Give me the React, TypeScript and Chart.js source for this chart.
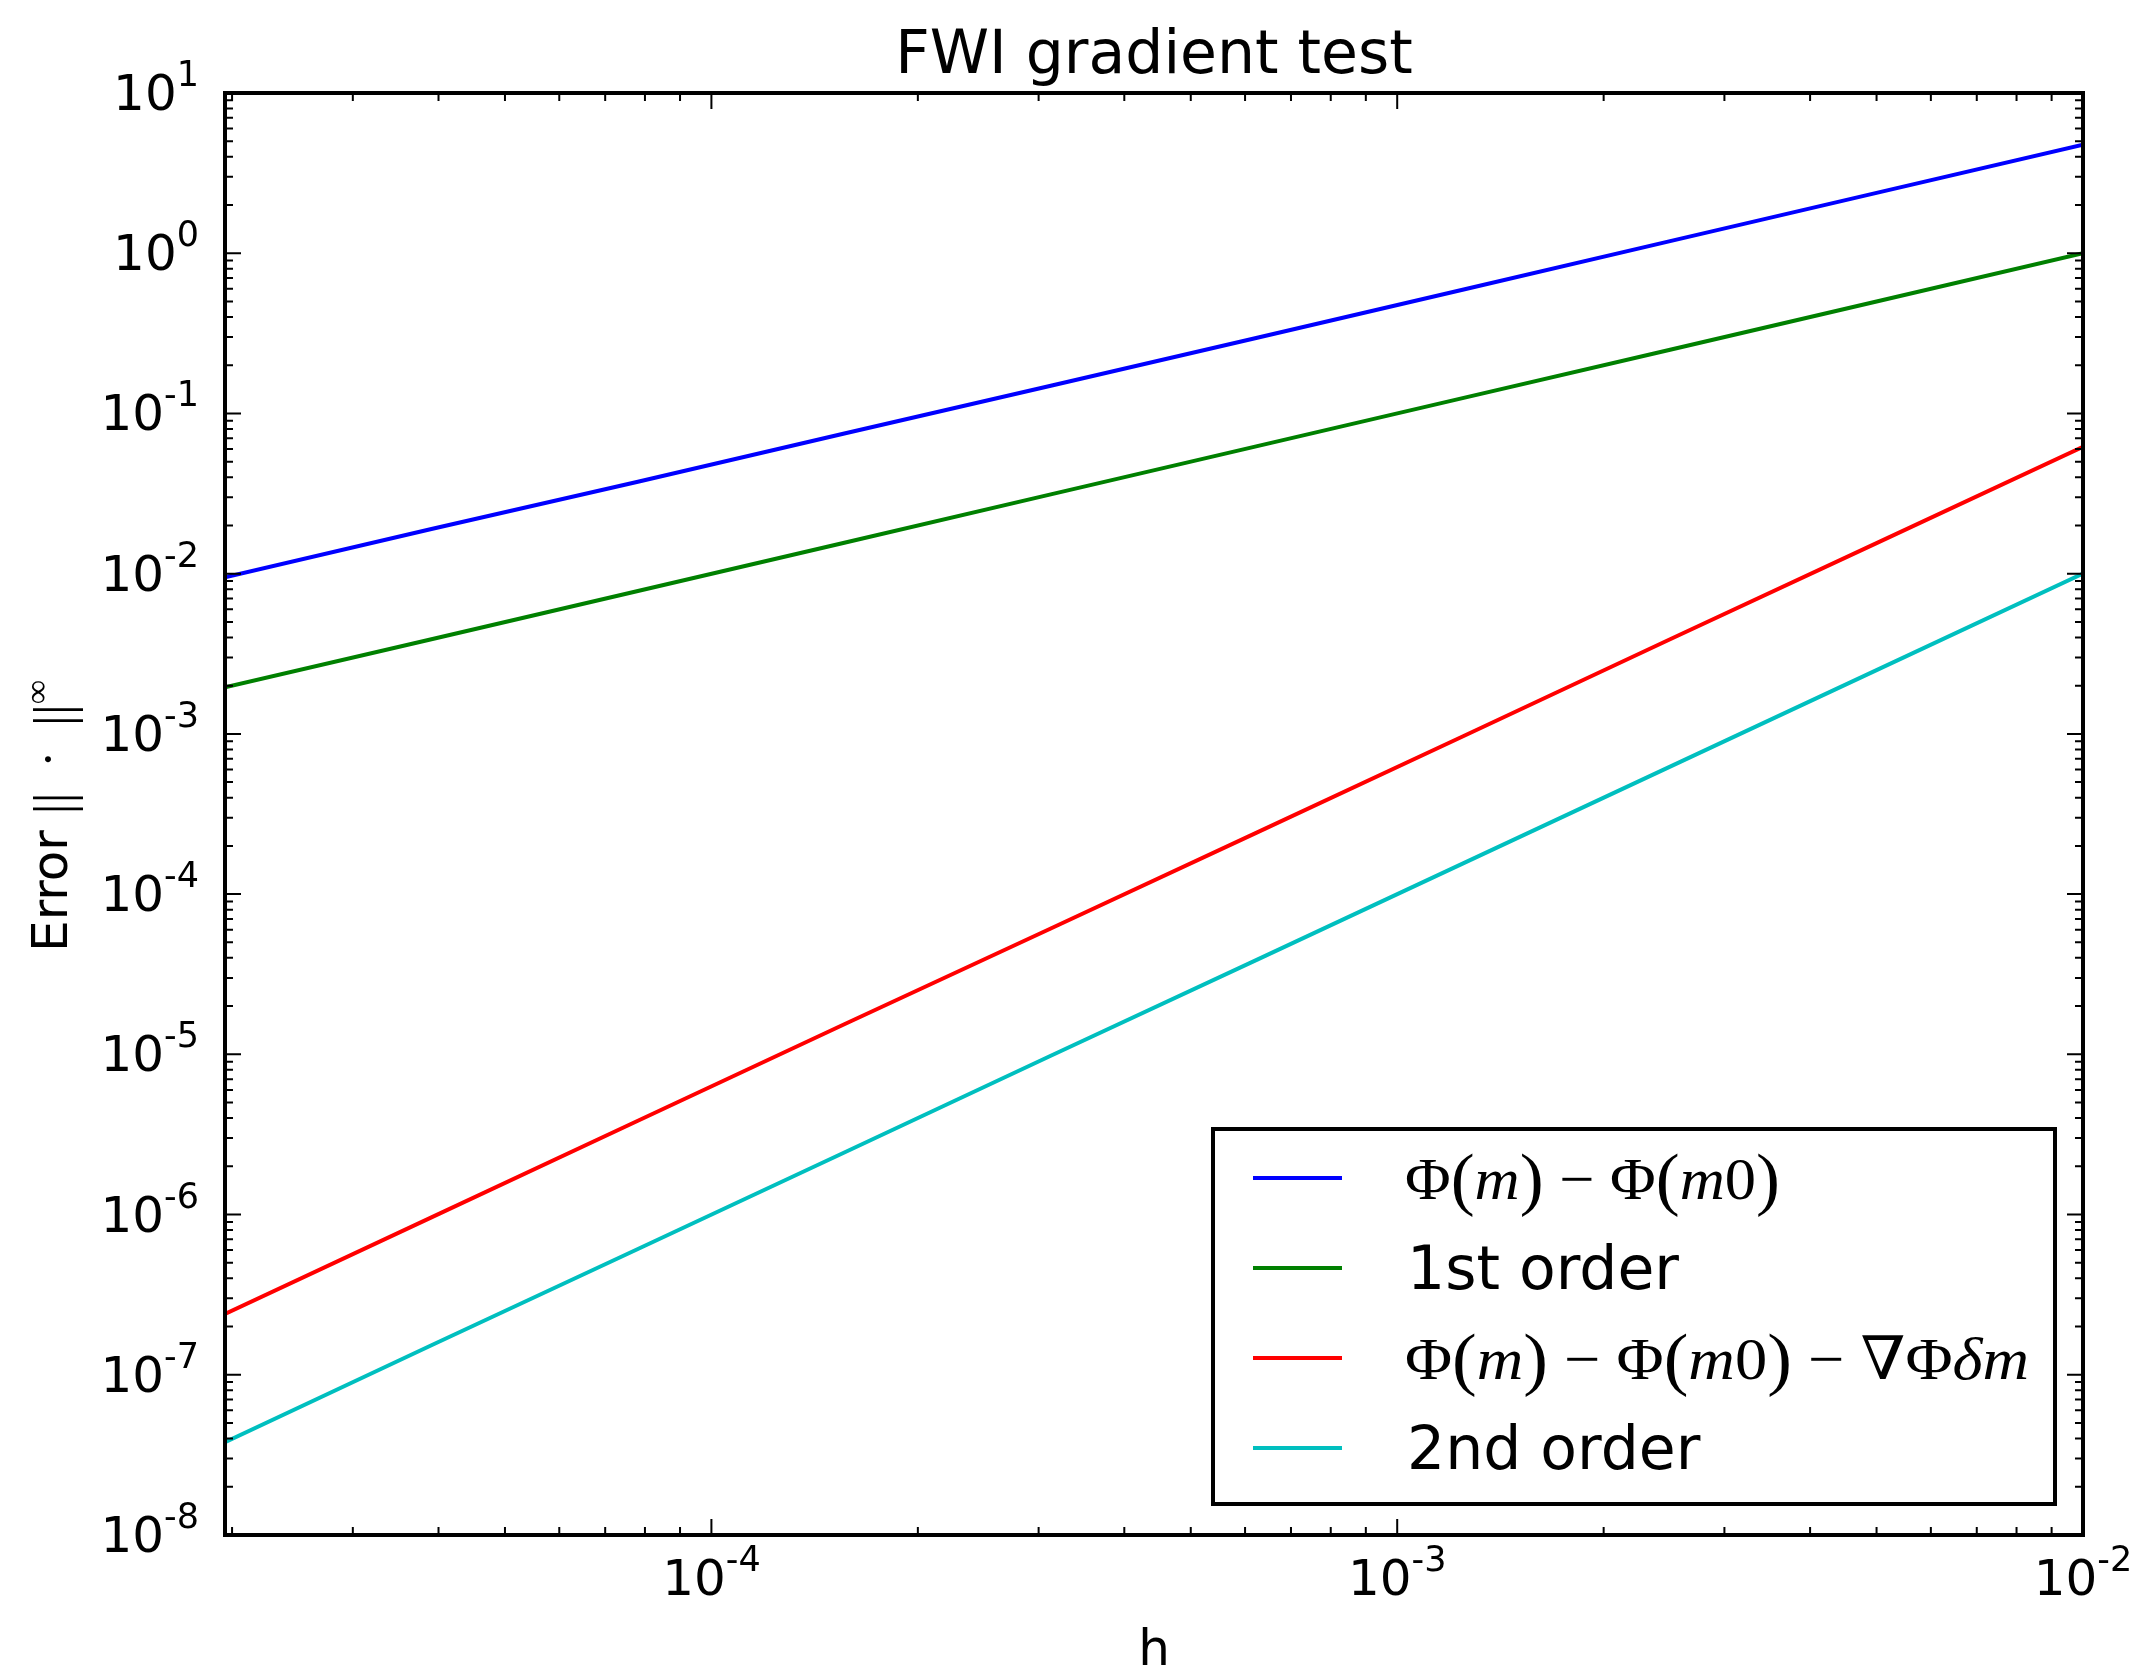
import React, { useEffect, useRef } from 'react';
import { Chart, registerables } from 'chart.js';

Chart.register(...registerables);

// ---- data ----
const hValues = [1.953125e-5, 3.90625e-5, 7.8125e-5, 1.5625e-4, 3.125e-4, 6.25e-4, 1.25e-3, 2.5e-3, 5e-3, 1e-2];
const errorFull = [0.0095, 0.019, 0.0375, 0.075, 0.149, 0.297, 0.594, 1.19, 2.38, 4.75];
const firstOrder = [0.00195, 0.0039, 0.0078, 0.0156, 0.03125, 0.0625, 0.125, 0.25, 0.5, 1.0];
const errorGrad = [2.4e-7, 9.6e-7, 3.85e-6, 1.54e-5, 6.1e-5, 2.43e-4, 9.7e-4, 3.9e-3, 1.55e-2, 6.2e-2];
const secondOrder = [3.8e-8, 1.53e-7, 6.1e-7, 2.44e-6, 9.8e-6, 3.9e-5, 1.56e-4, 6.25e-4, 2.5e-3, 1e-2];

const seriesLabels = ['Φ(m) − Φ(m0)', '1st order', 'Φ(m) − Φ(m0) − ∇Φδm', '2nd order'];
const seriesColors = ['#0000ff', '#008000', '#ff0000', '#00bfbf'];
const seriesValues = [errorFull, firstOrder, errorGrad, secondOrder];

const xMin = 1.953125e-5;
const xMax = 1e-2;
const yMin = 1e-8;
const yMax = 10;
const xTickExponents = [-4, -3, -2];
const yTickExponents = [-8, -7, -6, -5, -4, -3, -2, -1, 0, 1];

const titleText = 'FWI gradient test';
const xLabelText = 'h';
const yLabelText = 'Error ';

const SANS = "'DejaVu Sans', sans-serif";
const SERIF = "'Liberation Serif', 'DejaVu Serif', serif";

type Seg = { t: string; font: string; dy?: number };

function drawSegs(ctx: CanvasRenderingContext2D, segs: Seg[], x: number, y: number, align: 'left' | 'center' | 'right', sx = 1) {
  let total = 0;
  const widths = segs.map((s) => {
    ctx.font = s.font;
    const w = ctx.measureText(s.t).width;
    total += w;
    return w;
  });
  total *= sx;
  let start = x;
  if (align === 'center') start = x - total / 2;
  else if (align === 'right') start = x - total;
  ctx.save();
  ctx.translate(start, y);
  ctx.scale(sx, 1);
  let cx = 0;
  segs.forEach((s, i) => {
    ctx.font = s.font;
    ctx.fillText(s.t, cx, s.dy || 0);
    cx += widths[i];
  });
  ctx.restore();
  return total;
}

function powSegs(exp: number): Seg[] {
  return [
    { t: '10', font: `50px ${SANS}` },
    { t: String(exp), font: `35px ${SANS}`, dy: -24 },
  ];
}

function mathSegs(label: string, size: number): Seg[] {
  const segs: Seg[] = [];
  for (const ch of label) {
    const italic = ch === 'm' || ch === 'δ';
    const paren = ch === '(' || ch === ')';
    const s = paren ? Math.round(size * 1.15) : size;
    segs.push({ t: ch, font: `${italic ? 'italic ' : ''}${s}px ${SERIF}`, dy: paren ? 3 : 0 });
  }
  return segs;
}

const decorPlugin = {
  id: 'decor',
  afterDraw(chart: any) {
    const ctx: CanvasRenderingContext2D = chart.ctx;
    const { left, right, top, bottom } = chart.chartArea;
    const xs = chart.scales.x;
    const ys = chart.scales.y;
    ctx.save();
    ctx.fillStyle = '#000';
    ctx.strokeStyle = '#000';
    ctx.textBaseline = 'alphabetic';
    ctx.textAlign = 'left';

    // ticks (inward, all four sides)
    const majorLen = 16;
    const minorLen = 8;
    ctx.lineWidth = 2;
    ctx.beginPath();
    for (let e = -5; e <= -2; e++) {
      for (let m = 1; m <= 9; m++) {
        const v = m * Math.pow(10, e);
        if (v < xMin * 0.9999 || v > xMax * 1.0001) continue;
        const px = xs.getPixelForValue(v);
        const len = m === 1 ? majorLen : minorLen;
        ctx.moveTo(px, bottom);
        ctx.lineTo(px, bottom - len);
        ctx.moveTo(px, top);
        ctx.lineTo(px, top + len);
      }
    }
    for (let e = -8; e <= 1; e++) {
      for (let m = 1; m <= 9; m++) {
        const v = m * Math.pow(10, e);
        if (v < yMin * 0.9999 || v > yMax * 1.0001) continue;
        const py = ys.getPixelForValue(v);
        const len = m === 1 ? majorLen : minorLen;
        ctx.moveTo(left, py);
        ctx.lineTo(left + len, py);
        ctx.moveTo(right, py);
        ctx.lineTo(right - len, py);
      }
    }
    ctx.stroke();

    // frame
    ctx.lineWidth = 4;
    ctx.strokeRect(left, top, right - left, bottom - top);

    // tick labels
    xTickExponents.forEach((e) => {
      const px = xs.getPixelForValue(Math.pow(10, e));
      drawSegs(ctx, powSegs(e), px, bottom + 60, 'center');
    });
    yTickExponents.forEach((e) => {
      const py = ys.getPixelForValue(Math.pow(10, e));
      drawSegs(ctx, powSegs(e), left - 26, py + 17, 'right');
    });

    // title
    ctx.font = `60px ${SANS}`;
    ctx.textAlign = 'center';
    ctx.fillText(titleText, (left + right) / 2, 73);
    // x label
    ctx.font = `50px ${SANS}`;
    ctx.fillText(xLabelText, (left + right) / 2, 1665);
    ctx.textAlign = 'left';

    // y label (rotated)
    ctx.save();
    ctx.translate(67, (top + bottom) / 2 + 2);
    ctx.rotate(-Math.PI / 2);
    drawSegs(
      ctx,
      [
        { t: yLabelText, font: `50px ${SANS}` },
        { t: '||', font: `54px ${SERIF}`, dy: 4 },
        { t: '  ·  ', font: `50px ${SERIF}`, dy: -2 },
        { t: '||', font: `54px ${SERIF}`, dy: 4 },
        { t: '∞', font: `34px ${SERIF}`, dy: -19 },
      ],
      0,
      0,
      'center'
    );
    ctx.restore();

    // legend
    const lx0 = 1213, ly0 = 1129, lx1 = 2055, ly1 = 1504;
    ctx.fillStyle = '#fff';
    ctx.fillRect(lx0, ly0, lx1 - lx0, ly1 - ly0);
    ctx.lineWidth = 4;
    ctx.strokeStyle = '#000';
    ctx.strokeRect(lx0, ly0, lx1 - lx0, ly1 - ly0);
    const mathWidths = [375, 0, 624, 0];
    chart.data.datasets.forEach((ds: any, i: number) => {
      const cy = 1178 + i * 90;
      ctx.strokeStyle = ds.borderColor;
      ctx.lineWidth = 4;
      ctx.beginPath();
      ctx.moveTo(1253, cy);
      ctx.lineTo(1342, cy);
      ctx.stroke();
      ctx.fillStyle = '#000';
      const label: string = ds.label;
      if (label.includes('Φ')) {
        const segs = mathSegs(label, 60);
        let w = 0;
        segs.forEach((s) => {
          ctx.font = s.font;
          w += ctx.measureText(s.t).width;
        });
        const sx = mathWidths[i] ? mathWidths[i] / w : 1;
        drawSegs(ctx, segs, 1405, cy + 21, 'left', sx);
      } else {
        ctx.font = `60px ${SANS}`;
        ctx.fillText(label, 1407, cy + 21);
      }
    });
    ctx.restore();
  },
};

export default function App() {
  const canvasRef = useRef<HTMLCanvasElement | null>(null);

  useEffect(() => {
    document.body.style.margin = '0';
    const canvas = canvasRef.current;
    if (!canvas) return;
    const chart = new Chart(canvas, {
      type: 'line',
      data: {
        datasets: seriesLabels.map((label, i) => ({
          label,
          data: hValues.map((h, j) => ({ x: h, y: seriesValues[i][j] })),
          borderColor: seriesColors[i],
          backgroundColor: seriesColors[i],
          borderWidth: 4,
          pointRadius: 0,
          tension: 0,
          fill: false,
        })),
      },
      options: {
        responsive: false,
        animation: false,
        devicePixelRatio: 1,
        layout: { padding: { left: 0, top: 93, right: 58, bottom: 0 } },
        plugins: {
          legend: { display: false },
          title: { display: false },
          tooltip: { enabled: false },
        },
        scales: {
          x: {
            type: 'logarithmic',
            min: xMin,
            max: xMax,
            bounds: 'data',
            grid: { display: false },
            border: { display: false },
            ticks: { display: false },
            afterFit: (s: any) => {
              s.height = 136;
            },
          },
          y: {
            type: 'logarithmic',
            min: yMin,
            max: yMax,
            bounds: 'data',
            grid: { display: false },
            border: { display: false },
            ticks: { display: false },
            afterFit: (s: any) => {
              s.width = 225;
            },
          },
        },
      } as any,
      plugins: [decorPlugin],
    });
    return () => chart.destroy();
  }, []);

  return (
    <div style={{ width: 2141, height: 1671, background: '#fff' }}>
      <canvas ref={canvasRef} width={2141} height={1671} style={{ display: 'block', width: 2141, height: 1671 }} />
    </div>
  );
}
